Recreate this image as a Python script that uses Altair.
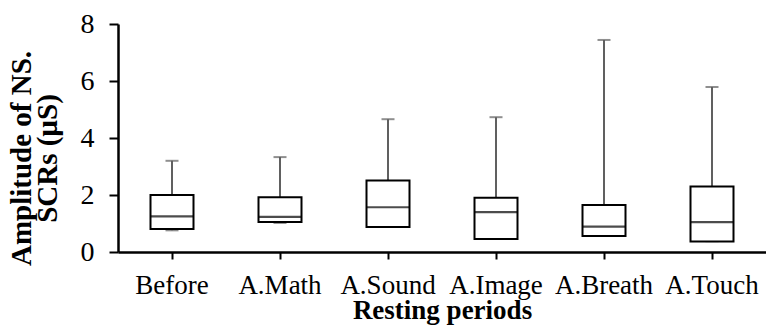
import altair as alt
import pandas as pd

categories = ["Before", "A.Math", "A.Sound", "A.Image", "A.Breath", "A.Touch"]
whisker_low = [0.76, 1.02, 0.88, 0.46, 0.57, 0.38]
q1 = [0.81, 1.05, 0.88, 0.46, 0.56, 0.37]
median = [1.25, 1.23, 1.57, 1.40, 0.89, 1.05]
q3 = [2.00, 1.92, 2.51, 1.90, 1.65, 2.30]
whisker_high = [3.20, 3.33, 4.66, 4.73, 7.44, 5.79]
y_ticks = [0, 2, 4, 6, 8]

df = pd.DataFrame({
    "cat": categories,
    "lo": whisker_low,
    "q1": q1,
    "med": median,
    "q3": q3,
    "hi": whisker_high,
})

FONT = "Liberation Serif"
GRAY = "#606060"

x_enc = alt.X(
    "cat:N",
    sort=categories,
    scale=alt.Scale(paddingInner=0, paddingOuter=0),
    axis=alt.Axis(
        title="Resting periods",
        labelAngle=0,
        labelFont=FONT,
        labelFontSize=27,
        labelColor="black",
        labelBaseline="alphabetic",
        labelPadding=34,
        tickSize=7,
        tickWidth=2,
        tickColor="black",
        domainColor="black",
        domainWidth=2.5,
        titleFont=FONT,
        titleFontSize=27,
        titleFontWeight="bold",
        titleColor="black",
        titleBaseline="alphabetic",
        titleY=66,
    ),
)

y_scale = alt.Scale(domain=[0, 8], nice=False, zero=True)
y_axis = alt.Axis(
    values=y_ticks,
    title=["Amplitude of NS.", "SCRs (µS)"],
    grid=False,
    labelFont=FONT,
    labelFontSize=28,
    labelColor="black",
    labelPadding=15,
    tickSize=9,
    tickWidth=2,
    tickColor="black",
    domainColor="black",
    domainWidth=2.5,
    titleFont=FONT,
    titleFontSize=29,
    titleFontWeight="bold",
    titleColor="black",
    titleBaseline="alphabetic",
    titleLineHeight=26,
    titleX=-88,
    titleY=134,
)

base = alt.Chart(df)

upper = base.mark_rule(color=GRAY, strokeWidth=2).encode(
    x=x_enc, y=alt.Y("q3:Q", scale=y_scale, axis=y_axis), y2="hi:Q"
)
lower = base.mark_rule(color=GRAY, strokeWidth=2).encode(
    x=x_enc, y=alt.Y("lo:Q", scale=y_scale), y2="q1:Q"
)
cap_hi = base.mark_tick(color=GRAY, size=13, thickness=2).encode(
    x=x_enc, y=alt.Y("hi:Q", scale=y_scale)
)
cap_lo = base.mark_tick(color=GRAY, size=13, thickness=2).encode(
    x=x_enc, y=alt.Y("lo:Q", scale=y_scale)
)
box = base.mark_bar(fill="white", stroke="black", strokeWidth=2, size=43).encode(
    x=x_enc, y=alt.Y("q1:Q", scale=y_scale), y2="q3:Q"
)
med = base.mark_tick(color="black", size=43, thickness=2.2).encode(
    x=x_enc, y=alt.Y("med:Q", scale=y_scale)
)

chart = (
    alt.layer(upper, lower, cap_hi, cap_lo, box, med)
    .properties(
        width=648,
        height=228,
        autosize=alt.AutoSizeParams(type="none"),
        padding={"left": 118, "top": 24, "right": 0, "bottom": 73},
        background="white",
    )
    .configure_view(stroke=None)
)

chart.save("out.html", embed_options={"renderer": "svg", "actions": False})
